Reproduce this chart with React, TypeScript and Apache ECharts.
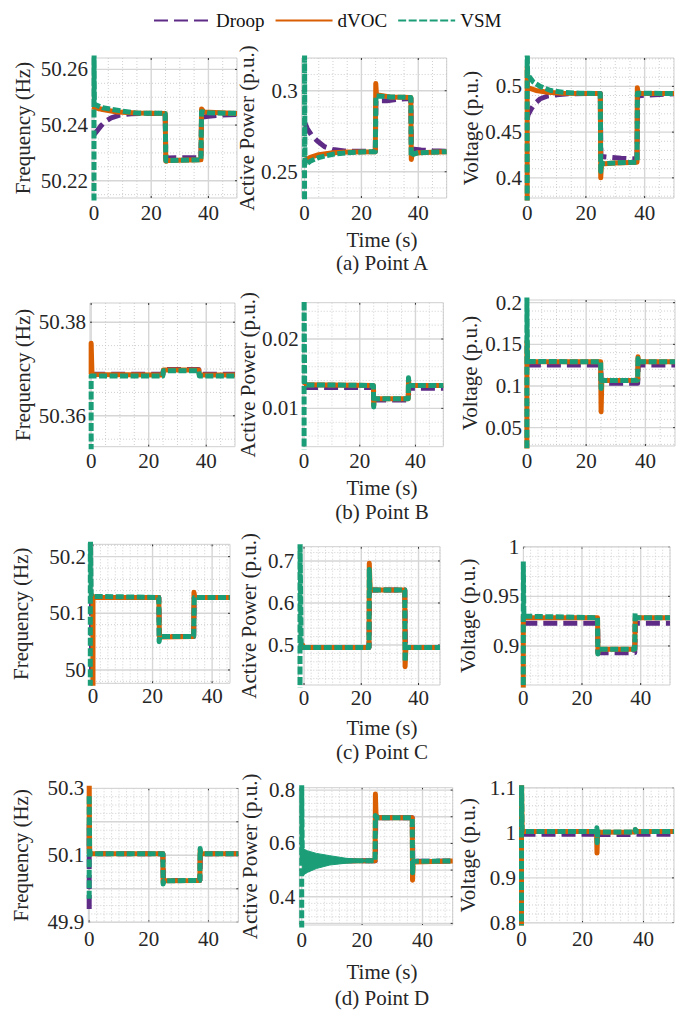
import React, { useEffect, useRef } from 'react';
import * as echarts from 'echarts';

type Pt = [number, number];

const FONT = 'Liberation Serif';
const FS = 21;
const LEGEND_FS = 19;
const TEXT = '#262626';
const C_DROOP = '#5e2b87';
const C_DVOC = '#d95f02';
const C_VSM = '#1b9e77';
const SERIES_NAMES = ['Droop', 'dVOC', 'VSM'];

// ---------- tick labels ----------
const timeTicks = [0, 20, 40];
const aFreqTicks = [50.22, 50.24, 50.26];
const aPowTicks = [0.25, 0.3];
const aVolTicks = [0.4, 0.45, 0.5];
const bFreqTicks = [50.36, 50.38];
const bPowTicks = [0.01, 0.02];
const bVolTicks = [0.05, 0.1, 0.15, 0.2];
const cFreqTicks = [50, 50.1, 50.2];
const cPowTicks = [0.5, 0.6, 0.7];
const cVolTicks = [0.9, 0.95, 1];
const dFreqGrid = [49.9, 50, 50.1, 50.2, 50.3];
const dFreqTicks = [49.9, 50.1, 50.3];
const dPowGrid = [0.3, 0.4, 0.5, 0.6, 0.7, 0.8];
const dPowTicks = [0.4, 0.6, 0.8];
const dVolTicks = [0.8, 0.9, 1, 1.1];

// ---------- (a) Point A ----------
const aFreqDroop: Pt[] = [[0, 50.2365], [1, 50.2378], [2.5, 50.2398], [4, 50.2413], [6, 50.2426], [9, 50.2436], [13, 50.2441], [24.9, 50.2442], [25.1, 50.2282], [37.4, 50.2283], [37.6, 50.2428], [40, 50.2432], [45, 50.2436], [50, 50.2438]];
const aFreqDvoc: Pt[] = [[0, 50.2455], [0.2, 50.2463], [3, 50.2456], [8, 50.2447], [15, 50.2443], [24.9, 50.2442], [25.1, 50.227], [26, 50.2273], [37.4, 50.2275], [37.6, 50.2458], [38.5, 50.2447], [50, 50.2442]];
const aFreqVsm: Pt[] = [[0, 50.205], [0, 50.27], [0.15, 50.2475], [3, 50.2462], [10, 50.245], [15, 50.2443], [24.9, 50.2442], [25.1, 50.2272], [37.4, 50.2276], [37.6, 50.2448], [40, 50.2444], [50, 50.2442]];

const aPowDroop: Pt[] = [[0, 0.2805], [1, 0.2765], [2.5, 0.2725], [4.5, 0.269], [7, 0.2655], [10, 0.2637], [14, 0.2628], [24.9, 0.2625], [25.1, 0.2937], [29, 0.2938], [33, 0.2948], [37.4, 0.2952], [37.6, 0.264], [41, 0.2634], [45, 0.2629], [50, 0.2626]];
const aPowDvoc: Pt[] = [[0, 0.2565], [0.3, 0.2572], [2, 0.2588], [5, 0.2605], [10, 0.2617], [15, 0.2622], [24.9, 0.2624], [25.05, 0.3045], [25.3, 0.2975], [30, 0.2962], [37.4, 0.2958], [37.55, 0.2575], [37.8, 0.2605], [40, 0.2618], [50, 0.2624]];
const aPowVsm: Pt[] = [[0, 0.22], [0, 0.33], [0.15, 0.2541], [2, 0.2565], [5, 0.2588], [10, 0.2608], [15, 0.2617], [20, 0.2622], [24.9, 0.2624], [25.1, 0.2968], [30, 0.2962], [37.4, 0.2958], [37.5, 0.2592], [38, 0.2608], [40, 0.2617], [50, 0.2624]];

const aVolDroop: Pt[] = [[0, 0.464], [0.3, 0.469], [1.5, 0.476], [2.7, 0.4814], [4.5, 0.4865], [7, 0.4895], [10, 0.4908], [14, 0.4918], [20, 0.4922], [24.9, 0.4922], [25.1, 0.4235], [28, 0.4226], [32, 0.4215], [37.4, 0.4205], [37.6, 0.4895], [40, 0.4903], [45, 0.4912], [50, 0.4918]];
const aVolDvoc: Pt[] = [[0, 0.36], [0, 0.5205], [0.15, 0.4985], [3, 0.4955], [7, 0.4935], [12, 0.4925], [24.9, 0.4922], [25.05, 0.4], [25.3, 0.4152], [30, 0.4163], [37.4, 0.4172], [37.5, 0.4985], [37.8, 0.4925], [50, 0.4922]];
const aVolVsm: Pt[] = [[0, 0.36], [0, 0.55], [0.15, 0.513], [2, 0.505], [4.4, 0.5], [8, 0.4955], [12, 0.4935], [18, 0.4925], [24.9, 0.4922], [25.05, 0.407], [25.3, 0.4155], [30, 0.4163], [37.4, 0.4172], [37.55, 0.4925], [50, 0.4922]];

// ---------- (b) Point B ----------
const bFreqDroop: Pt[] = [[0, 50.3689], [24.9, 50.3689], [25.1, 50.3699], [37.4, 50.3699], [37.6, 50.3689], [50, 50.3689]];
const bFreqDvoc: Pt[] = [[0, 50.3688], [0, 50.3755], [0.15, 50.3755], [0.3, 50.3688], [24.9, 50.3687], [25.1, 50.3698], [37.4, 50.3698], [37.6, 50.3687], [50, 50.3687]];
const bFreqVsm: Pt[] = [[0, 50.35], [0, 50.3685], [0.3, 50.3685], [24.9, 50.3685], [25.1, 50.3696], [37.4, 50.3696], [37.6, 50.3685], [50, 50.3685]];

const bPowDroop: Pt[] = [[0, 0.013], [24.9, 0.013], [25.1, 0.0112], [37.4, 0.0112], [37.6, 0.0129], [50, 0.0129]];
const bPowDvoc: Pt[] = [[0, 0.0133], [0.2, 0.0134], [24.9, 0.0133], [25, 0.0104], [25.2, 0.0114], [37.4, 0.0114], [37.5, 0.0142], [37.7, 0.0133], [50, 0.0133]];
const bPowVsm: Pt[] = [[0, 0.003], [0, 0.027], [0.2, 0.0134], [24.9, 0.0133], [25, 0.0102], [25.2, 0.0114], [37.4, 0.0114], [37.5, 0.0144], [37.7, 0.0133], [50, 0.0133]];

const bVolDroop: Pt[] = [[0, 0.1252], [24.9, 0.1252], [25.1, 0.1032], [37.4, 0.1032], [37.6, 0.1252], [50, 0.1252]];
const bVolDvoc: Pt[] = [[0, 0], [0, 0.153], [0.2, 0.131], [0.6, 0.129], [24.9, 0.129], [25.05, 0.069], [25.3, 0.1065], [37.4, 0.1068], [37.5, 0.1352], [37.7, 0.129], [50, 0.129]];
const bVolVsm: Pt[] = [[0, 0], [0, 0.21], [0.2, 0.132], [0.6, 0.1295], [24.9, 0.129], [25.05, 0.097], [25.3, 0.1065], [37.4, 0.1068], [37.5, 0.133], [37.7, 0.1292], [50, 0.129]];

// ---------- (c) Point C ----------
const cFreqDroop: Pt[] = [[-0.5, 49.99], [-0.5, 50.132], [0, 50.128], [22.1, 50.128], [22.3, 50.059], [33.8, 50.059], [34, 50.128], [46, 50.128]];
const cFreqDvoc: Pt[] = [[0, 49.97], [0, 50.13], [0.3, 50.128], [22.1, 50.128], [22.3, 50.058], [33.8, 50.059], [33.9, 50.137], [34.2, 50.128], [46, 50.128]];
const cFreqVsm: Pt[] = [[-0.9, 49.95], [-0.9, 50.25], [-0.6, 50.13], [22.1, 50.128], [22.2, 50.05], [22.5, 50.059], [33.8, 50.059], [34, 50.128], [46, 50.128]];

const cPowDroop: Pt[] = [[-1, 0.494], [22.7, 0.494], [22.9, 0.631], [35.2, 0.631], [35.4, 0.494], [47.5, 0.494]];
const cPowDvoc: Pt[] = [[-1, 0.494], [-0.5, 0.5], [0, 0.494], [22.7, 0.494], [22.8, 0.6945], [23.1, 0.631], [35.2, 0.631], [35.3, 0.4484], [35.6, 0.494], [47.5, 0.494]];
const cPowVsm: Pt[] = [[-1.4, 0.38], [-1.4, 0.76], [-1, 0.494], [22.7, 0.494], [22.8, 0.68], [23, 0.631], [35.2, 0.631], [35.3, 0.46], [35.5, 0.494], [47.5, 0.494]];

const cVolDroop: Pt[] = [[0, 0.9228], [25.3, 0.9228], [25.5, 0.8933], [38, 0.8933], [38.2, 0.9228], [50, 0.9228]];
const cVolDvoc: Pt[] = [[0, 0.85], [0, 0.93], [0.2, 0.9285], [25.3, 0.9285], [25.45, 0.8925], [25.6, 0.8967], [38, 0.8967], [38.15, 0.9285], [50, 0.9285]];
const cVolVsm: Pt[] = [[0, 0.85], [0, 0.985], [0.2, 0.93], [25.3, 0.9285], [25.4, 0.892], [25.6, 0.8967], [38, 0.8967], [38.1, 0.933], [38.3, 0.9285], [50, 0.9285]];

// ---------- (d) Point D ----------
const dFreqDroop: Pt[] = [[0, 49.94], [0, 50.19], [0.15, 50.105], [24.7, 50.105], [24.9, 50.025], [37.1, 50.025], [37.3, 50.105], [50, 50.105]];
const dFreqDvoc: Pt[] = [[0, 50.105], [0, 50.33], [0.15, 50.105], [24.7, 50.105], [24.8, 50.018], [25, 50.024], [37.1, 50.025], [37.2, 50.115], [37.4, 50.105], [50, 50.105]];
const dFreqVsm: Pt[] = [[0, 49.97], [0, 50.28], [0.15, 50.105], [24.7, 50.105], [24.8, 50.014], [25, 50.024], [37.1, 50.025], [37.2, 50.12], [37.4, 50.105], [50, 50.105]];

const dPowDroop: Pt[] = [[0, 0.534], [24.4, 0.535], [24.5, 0.696], [36.6, 0.696], [36.8, 0.533], [50, 0.534]];
const dPowDvoc: Pt[] = [[0, 0.534], [24.3, 0.535], [24.4, 0.785], [24.6, 0.71], [25, 0.697], [36.6, 0.696], [36.7, 0.462], [36.9, 0.53], [50, 0.534]];
const dPowVsm: Pt[] = [[0, 0.28], [0, 0.82], [0.2, 0.534], [24.3, 0.535], [24.4, 0.705], [24.7, 0.696], [36.6, 0.696], [36.7, 0.49], [36.9, 0.533], [50, 0.534]];
// oscillation envelope of VSM active power at point D
const dPowEnvT = [0.3, 2, 4.9, 9.3, 14.8, 20.3, 23.6];
const dPowEnvUpper = [0.58, 0.572, 0.5625, 0.554, 0.544, 0.539, 0.537];
const dPowEnvLower = [0.48, 0.492, 0.506, 0.519, 0.526, 0.53, 0.532];

const dVolDroop: Pt[] = [[0, 0.997], [24.7, 0.997], [24.8, 0.99], [25, 0.996], [50, 0.997]];
const dVolDvoc: Pt[] = [[0, 0.78], [0, 1.12], [0.2, 1.003], [24.6, 1.003], [24.75, 0.955], [24.95, 1.001], [37.2, 1.002], [37.3, 1.007], [37.5, 1.003], [50, 1.003]];
const dVolVsm: Pt[] = [[0, 0.78], [0, 1.12], [0.2, 1.003], [24.6, 1.003], [24.7, 1.011], [24.8, 0.978], [25, 1.002], [37.2, 1.002], [37.3, 1.0075], [37.5, 1.003], [50, 1.003]];

// ---------- layout ----------
interface Panel {
  box: [number, number, number, number];
  x: [number, number];
  y: [number, number];
  yGrid: number[];
  yLabels: number[];
  yMinor: number;
  xMinor: number;
  title: string;
  titleOff: number;
  xMargin: number;
  lines: [Pt[], Pt[], Pt[]];
  env?: { t: number[]; up: number[]; lo: number[] };
}

const FREQ = 'Frequency (Hz)';
const POW = 'Active Power (p.u.)';
const VOL = 'Voltage (p.u.)';

const panels: Panel[] = [
  { box: [92, 58, 237, 198], x: [-0.7, 50], y: [50.2138, 50.2641], yGrid: aFreqTicks, yLabels: aFreqTicks, yMinor: 0.005, xMinor: 5, title: FREQ, titleOff: 68.7, xMargin: 4, lines: [aFreqDroop, aFreqDvoc, aFreqVsm] },
  { box: [301.7, 58, 446.7, 198], x: [-1, 50], y: [0.2338, 0.3202], yGrid: aPowTicks, yLabels: aPowTicks, yMinor: 0.01, xMinor: 5, title: POW, titleOff: 50, xMargin: 4, lines: [aPowDroop, aPowDvoc, aPowVsm] },
  { box: [526, 58, 674, 198], x: [-0.4, 50], y: [0.378, 0.531], yGrid: aVolTicks, yLabels: aVolTicks, yMinor: 0.01, xMinor: 5, title: VOL, titleOff: 54, xMargin: 4, lines: [aVolDroop, aVolDvoc, aVolVsm] },

  { box: [90, 303, 235, 446.7], x: [-0.4, 50], y: [50.3534, 50.3841], yGrid: bFreqTicks, yLabels: bFreqTicks, yMinor: 0.005, xMinor: 5, title: FREQ, titleOff: 66.7, xMargin: 4, lines: [bFreqDroop, bFreqDvoc, bFreqVsm] },
  { box: [302.7, 302.7, 443.3, 446.7], x: [-0.5, 50], y: [0.00447, 0.02524], yGrid: bPowTicks, yLabels: bPowTicks, yMinor: 0.002, xMinor: 5, title: POW, titleOff: 51, xMargin: 4, lines: [bPowDroop, bPowDvoc, bPowVsm] },
  { box: [526, 300, 675, 446], x: [-0.3, 50], y: [0.028, 0.2032], yGrid: bVolTicks, yLabels: bVolTicks, yMinor: 0.01, xMinor: 5, title: VOL, titleOff: 56, xMargin: 4, lines: [bVolDroop, bVolDvoc, bVolVsm] },

  { box: [90, 544.3, 230, 683.3], x: [-1, 46], y: [49.9765, 50.2218], yGrid: cFreqTicks, yLabels: cFreqTicks, yMinor: 0.02, xMinor: 2.5, title: FREQ, titleOff: 69.3, xMargin: 2, lines: [cFreqDroop, cFreqDvoc, cFreqVsm] },
  { box: [298.3, 546.7, 440, 685], x: [-2, 47.5], y: [0.4048, 0.734], yGrid: cPowTicks, yLabels: cPowTicks, yMinor: 0.02, xMinor: 2.5, title: POW, titleOff: 49, xMargin: 2, lines: [cPowDroop, cPowDvoc, cPowVsm] },
  { box: [523.3, 546.7, 670, 685], x: [0, 50], y: [0.8607, 1.0], yGrid: cVolTicks, yLabels: cVolTicks, yMinor: 0.01, xMinor: 2.5, title: VOL, titleOff: 55, xMargin: 2, lines: [cVolDroop, cVolDvoc, cVolVsm] },

  { box: [88.3, 788.3, 238.3, 922.3], x: [-0.3, 50], y: [49.9, 50.3], yGrid: dFreqGrid, yLabels: dFreqTicks, yMinor: 0.025, xMinor: 2.5, title: FREQ, titleOff: 67.6, xMargin: 6, lines: [dFreqDroop, dFreqDvoc, dFreqVsm] },
  { box: [299.3, 787.7, 452.7, 925], x: [-0.8, 50], y: [0.294, 0.809], yGrid: dPowGrid, yLabels: dPowTicks, yMinor: 0.025, xMinor: 2.5, title: POW, titleOff: 49, xMargin: 4, lines: [dPowDroop, dPowDvoc, dPowVsm], env: { t: dPowEnvT, up: dPowEnvUpper, lo: dPowEnvLower } },
  { box: [520, 787.7, 674, 923], x: [-0.5, 50], y: [0.8, 1.1], yGrid: dVolTicks, yLabels: dVolTicks, yMinor: 0.02, xMinor: 2.5, title: VOL, titleOff: 52, xMargin: 5, lines: [dVolDroop, dVolDvoc, dVolVsm] },
];

const captions = [
  { time: 240, cap: 263, text: '(a) Point A' },
  { time: 488, cap: 512, text: '(b) Point B' },
  { time: 728, cap: 752, text: '(c) Point C' },
  { time: 972, cap: 998, text: '(d) Point D' },
];

function stepValues(min: number, max: number, step: number): number[] {
  const out: number[] = [];
  const start = Math.ceil(min / step - 1e-9);
  for (let k = start; k * step <= max + 1e-9; k++) out.push(parseFloat((k * step).toFixed(6)));
  return out;
}

const near = (a: number, list: number[], tol: number) => list.some((v) => Math.abs(v - a) < tol);

const fmt = (v: number) => String(parseFloat(Number(v).toFixed(6)));

function gridSeries(i: number, p: Panel) {
  const xMinor = stepValues(p.x[0], p.x[1], p.xMinor).filter((v) => !near(v, timeTicks, p.xMinor / 10));
  const yMinor = stepValues(p.y[0], p.y[1], p.yMinor).filter((v) => !near(v, p.yGrid, p.yMinor / 10));
  return {
    type: 'custom',
    xAxisIndex: i,
    yAxisIndex: i,
    silent: true,
    z: 1,
    clip: true,
    data: [[p.x[0], p.y[0]]],
    renderItem: (params: any, api: any) => {
      const cs = params.coordSys;
      const children: any[] = [];
      const seg = (x1: number, y1: number, x2: number, y2: number, style: any) =>
        children.push({ type: 'line', shape: { x1, y1, x2, y2 }, style });
      const minorStyle = { stroke: '#c4c4c4', lineWidth: 0.8, lineDash: [1, 2] };
      const majorStyle = { stroke: '#d6d6d6', lineWidth: 1.4 };
      const tickStyle = { stroke: '#333', lineWidth: 1 };
      xMinor.forEach((v) => { const px = api.coord([v, p.y[0]])[0]; seg(px, cs.y, px, cs.y + cs.height, minorStyle); });
      yMinor.forEach((v) => { const py = api.coord([p.x[0], v])[1]; seg(cs.x, py, cs.x + cs.width, py, minorStyle); });
      timeTicks.forEach((v) => {
        const px = api.coord([v, p.y[0]])[0];
        seg(px, cs.y, px, cs.y + cs.height, majorStyle);
        seg(px, cs.y + cs.height, px, cs.y + cs.height - 2, tickStyle);
        seg(px, cs.y, px, cs.y + 2, tickStyle);
      });
      p.yGrid.forEach((v) => {
        const py = api.coord([p.x[0], v])[1];
        seg(cs.x, py, cs.x + cs.width, py, majorStyle);
        seg(cs.x, py, cs.x + 2, py, tickStyle);
        seg(cs.x + cs.width, py, cs.x + cs.width - 2, py, tickStyle);
      });
      return { type: 'group', children };
    },
  };
}

function envSeries(i: number, p: Panel) {
  const env = p.env!;
  return {
    type: 'custom',
    xAxisIndex: i,
    yAxisIndex: i,
    silent: true,
    z: 4,
    clip: true,
    data: [[env.t[0], env.up[0]]],
    renderItem: (_params: any, api: any) => {
      const pts: number[][] = [];
      env.t.forEach((t, k) => pts.push(api.coord([t, env.up[k]])));
      for (let k = env.t.length - 1; k >= 0; k--) pts.push(api.coord([env.t[k], env.lo[k]]));
      return { type: 'polygon', shape: { points: pts }, style: { fill: C_VSM, stroke: C_VSM, lineWidth: 1 } };
    },
  };
}

function lineSeries(i: number, name: string, data: Pt[], color: string, dash: any, z: number) {
  return {
    type: 'line',
    name,
    xAxisIndex: i,
    yAxisIndex: i,
    data,
    symbol: 'none',
    showSymbol: false,
    clip: true,
    silent: true,
    z,
    itemStyle: { color },
    lineStyle: { color, width: 5, type: dash, cap: 'butt', join: 'round' },
  };
}

function buildOption() {
  const grid: any[] = [];
  const xAxis: any[] = [];
  const yAxis: any[] = [];
  const series: any[] = [];
  const labelStyle = { fontFamily: FONT, fontSize: FS, color: TEXT };
  panels.forEach((p, i) => {
    const [l, t, r, b] = p.box;
    grid.push({ left: l, top: t, width: r - l, height: b - t, show: true, borderColor: '#cfcfcf', borderWidth: 1, backgroundColor: 'rgba(0,0,0,0)' });
    xAxis.push({
      type: 'value', gridIndex: i, min: p.x[0], max: p.x[1],
      axisLine: { show: false }, axisTick: { show: false }, splitLine: { show: false },
      axisLabel: { ...labelStyle, customValues: timeTicks, formatter: fmt, margin: p.xMargin },
    });
    yAxis.push({
      type: 'value', gridIndex: i, min: p.y[0], max: p.y[1],
      axisLine: { show: false }, axisTick: { show: false }, splitLine: { show: false },
      axisLabel: { ...labelStyle, customValues: p.yLabels, formatter: fmt, margin: 4 },
      name: p.title, nameLocation: 'middle', nameGap: p.titleOff - FS / 2,
      nameTextStyle: { ...labelStyle },
    });
    series.push(gridSeries(i, p));
    series.push(lineSeries(i, 'Droop', p.lines[0], C_DROOP, [14, 6], 2));
    series.push(lineSeries(i, 'dVOC', p.lines[1], C_DVOC, 'solid', 3));
    if (p.env) series.push(envSeries(i, p));
    series.push(lineSeries(i, 'VSM', p.lines[2], C_VSM, [8, 2.5], 5));
  });

  const graphic: any[] = [];
  captions.forEach((c) => {
    graphic.push({ type: 'text', x: 382, y: c.time, style: { text: 'Time (s)', fontFamily: FONT, fontSize: FS, fill: TEXT, align: 'center', verticalAlign: 'middle', textAlign: 'center', textVerticalAlign: 'middle' } });
    graphic.push({ type: 'text', x: 382, y: c.cap, style: { text: c.text, fontFamily: FONT, fontSize: FS, fill: TEXT, align: 'center', verticalAlign: 'middle', textAlign: 'center', textVerticalAlign: 'middle' } });
  });

  return {
    animation: false,
    backgroundColor: '#ffffff',
    legend: {
      data: SERIES_NAMES,
      top: 6,
      left: 148,
      itemWidth: 57,
      itemHeight: 14,
      itemGap: 10,
      selectedMode: false,
      itemStyle: { opacity: 0 },
      textStyle: { fontFamily: FONT, fontSize: LEGEND_FS, color: '#111' },
    },
    grid,
    xAxis,
    yAxis,
    series,
    graphic,
  };
}

export default function App() {
  const ref = useRef<HTMLDivElement>(null);
  useEffect(() => {
    document.body.style.margin = '0';
    const chart = echarts.init(ref.current!, undefined, { renderer: 'svg' });
    chart.setOption(buildOption() as any);
    return () => chart.dispose();
  }, []);
  return <div ref={ref} style={{ position: 'absolute', left: 0, top: 0, width: 692, height: 1013, background: '#fff' }} />;
}
